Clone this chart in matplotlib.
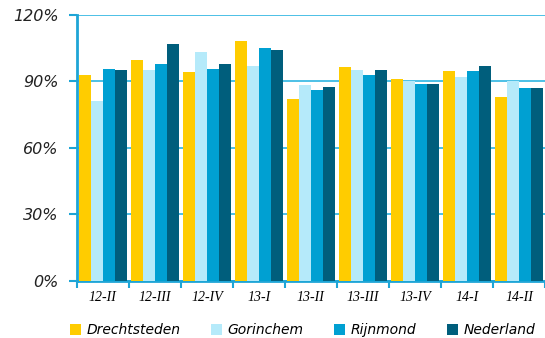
import numpy as np
import matplotlib
matplotlib.use("Agg")
import matplotlib.pyplot as plt
from matplotlib.ticker import FixedLocator

# data (percent)
quarters = ['12-II', '12-III', '12-IV', '13-I', '13-II', '13-III', '13-IV', '14-I', '14-II']
drechtsteden = [92.9, 99.7, 94.3, 108.3, 82.1, 96.5, 91.1, 94.7, 83.0]
gorinchem = [81.2, 95.2, 103.3, 97.0, 88.4, 95.2, 90.2, 92.0, 90.2]
rijnmond = [95.6, 97.9, 95.6, 105.1, 86.2, 92.9, 88.9, 94.7, 87.1]
nederland = [95.2, 106.9, 97.9, 104.2, 87.5, 95.2, 88.9, 97.0, 87.1]

series = [('Drechtsteden', drechtsteden, '#FFCC00'),
          ('Gorinchem', gorinchem, '#B5EAFA'),
          ('Rijnmond', rijnmond, '#00A0D2'),
          ('Nederland', nederland, '#005E7C')]

axis_blue = '#1EA5D6'

fig = plt.figure(figsize=(5.45, 3.38), dpi=100)
ax = fig.add_axes([0.141, 0.169, 0.859, 0.787])

x = np.arange(len(quarters))
w = 0.23
for i, (name, vals, col) in enumerate(series):
    ax.bar(x + (i - 1.5) * w, vals, width=w, color=col, label=name, zorder=3)

ax.set_xlim(-0.5, len(quarters) - 0.5)
ax.set_ylim(0, 120)
ax.set_yticks([0, 30, 60, 90, 120])
ax.set_yticklabels(['0%', '30%', '60%', '90%', '120%'])
ax.yaxis.grid(True, color='#4CC0E6', linewidth=1.4, zorder=0)
ax.set_axisbelow(True)

ax.set_xticks(x)
ax.set_xticklabels(quarters, fontfamily='Liberation Serif', fontstyle='italic', fontsize=10)
ax.xaxis.set_minor_locator(FixedLocator(np.arange(-0.5, len(quarters), 1.0)))
ax.tick_params(axis='x', which='major', length=0, pad=7)
ax.tick_params(axis='x', which='minor', length=5, width=1.5, color=axis_blue)
ax.tick_params(axis='y', length=6, width=1.5, color=axis_blue, pad=7)
for lab in ax.get_yticklabels():
    lab.set_fontstyle('italic')
    lab.set_fontsize(11.5)
    lab.set_color('#222222')

for side in ['top', 'right']:
    ax.spines[side].set_visible(False)
ax.spines['left'].set_color(axis_blue)
ax.spines['left'].set_linewidth(2)
ax.spines['bottom'].set_color(axis_blue)
ax.spines['bottom'].set_linewidth(2)

leg = fig.legend(loc='lower center', ncol=4, frameon=False, bbox_to_anchor=(0.555, -0.035),
                 handlelength=0.8, handleheight=0.8, handletextpad=0.4, columnspacing=2.2,
                 prop={'style': 'italic', 'size': 10})

fig.savefig('out.png', dpi=100)
